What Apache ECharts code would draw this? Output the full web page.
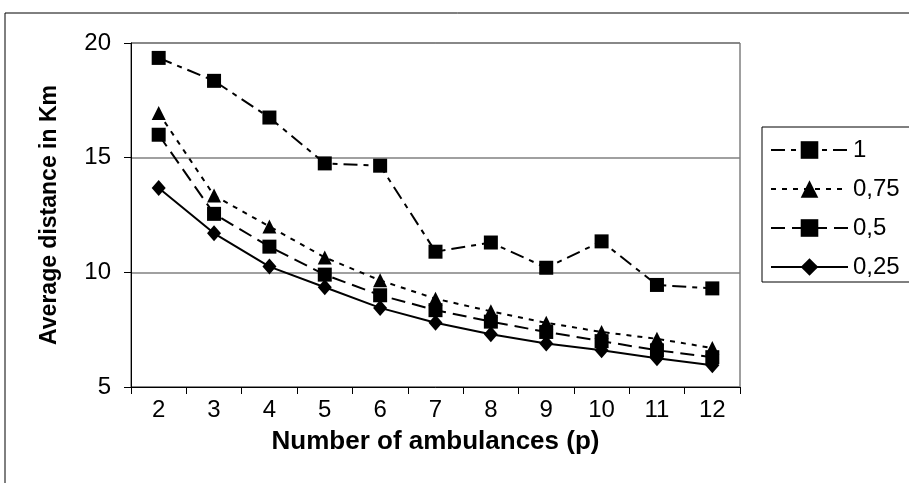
<!DOCTYPE html>
<html><head><meta charset="utf-8">
<script src="https://cdn.jsdelivr.net/npm/echarts@6/dist/echarts.min.js"></script>
<style>html,body{margin:0;padding:0;background:#fff}#c{width:909px;height:483px}</style>
</head><body><div id="c"></div>
<script>
const categories = ['2','3','4','5','6','7','8','9','10','11','12'];
const s1    = [19.35, 18.35, 16.75, 14.75, 14.65, 10.9, 11.3, 10.2, 11.35, 9.45, 9.3];
const s075  = [16.95, 13.35, 12.0, 10.65, 9.65, 8.85, 8.3, 7.8, 7.4, 7.1, 6.7];
const s05   = [16.0, 12.55, 11.12, 9.9, 9.0, 8.35, 7.85, 7.4, 7.0, 6.6, 6.3];
const s025  = [13.68, 11.7, 10.25, 9.35, 8.45, 7.8, 7.3, 6.9, 6.6, 6.25, 5.95];
const seriesNames = ['1','0,75','0,5','0,25'];
const yTicks = {min:5, max:20, interval:5};

const FONT = "'Liberation Sans', Arial, sans-serif";
const chart = echarts.init(document.getElementById('c'), null, {renderer:'canvas'});
function mk(name, data, symbol, dash){
  return {
    name, type:'line', data, symbol, symbolSize: symbol==='diamond'?[14,16]:14,
    lineStyle:{color:'#000', width:2, type:dash},
    itemStyle:{color:'#000'},
    animation:false, z:2
  };
}
chart.setOption({
  animation:false,
  backgroundColor:'#fff',
  textStyle:{fontFamily:FONT, color:'#000'},
  graphic:[{type:'rect', shape:{x:5, y:13, width:1000, height:1000}, style:{fill:'none', stroke:'#000', lineWidth:1}, silent:true, z:-1}],
  grid:{left:131, top:43, right:169, bottom:96, show:true, borderColor:'#404040', borderWidth:1},
  legend:{
    orient:'vertical', left:762, top:127,
    padding:[11,100,3,8],
    itemWidth:77, itemHeight:22, itemGap:15,
    borderColor:'#000', borderWidth:1,
    textStyle:{fontSize:24, fontFamily:FONT, color:'#000'},
    data: seriesNames
  },
  xAxis:{
    type:'category', data:categories, boundaryGap:true,
    name:'Number of ambulances (p)', nameLocation:'middle', nameGap:42,
    nameTextStyle:{fontSize:26, fontWeight:'bold', fontFamily:FONT, color:'#000'},
    axisLine:{lineStyle:{color:'#000', width:1}},
    axisTick:{show:true, length:7, lineStyle:{color:'#000'}, alignWithLabel:false},
    axisLabel:{fontSize:24, fontFamily:FONT, color:'#000', margin:11}
  },
  yAxis:{
    type:'value', min:yTicks.min, max:yTicks.max, interval:yTicks.interval,
    name:'Average distance in Km', nameLocation:'middle', nameGap:70, nameRotate:90,
    nameTextStyle:{fontSize:23, fontWeight:'bold', fontFamily:FONT, color:'#000'},
    axisLine:{show:true, lineStyle:{color:'#000', width:1}},
    axisTick:{show:true, length:7, lineStyle:{color:'#000'}},
    axisLabel:{fontSize:24, fontFamily:FONT, color:'#000', margin:20},
    splitLine:{show:true, lineStyle:{color:'#808080', width:1.5}}
  },
  series:[
    mk(seriesNames[0], s1, 'rect', [14,6,5,6]),
    mk(seriesNames[1], s075, 'triangle', [5,6]),
    mk(seriesNames[2], s05, 'rect', [14,7]),
    mk(seriesNames[3], s025, 'diamond', 'solid')
  ]
});
</script></body></html>
